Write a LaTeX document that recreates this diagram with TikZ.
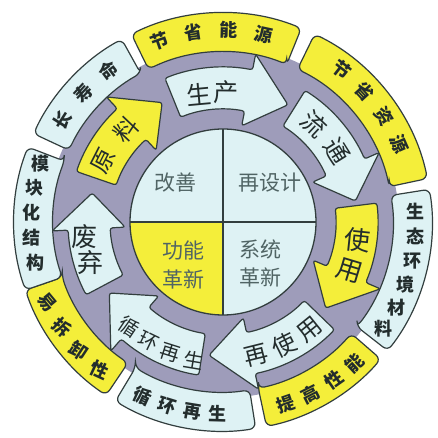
\documentclass[tikz,border=0pt]{standalone}
\usepackage{fontspec}
\newfontfamily\cjk{Noto Sans CJK SC}
\definecolor{ringgray}{RGB}{158,156,186}
\definecolor{lightc}{RGB}{222,242,244}
\definecolor{yel}{RGB}{244,238,58}
\definecolor{edge}{RGB}{50,62,62}
\definecolor{txt}{RGB}{35,45,45}
\definecolor{softtxt}{RGB}{80,100,100}
\tikzset{
  tabbox/.style={draw=edge, line width=1.2pt, rounded corners=6pt},
  arrowbox/.style={draw=edge, line width=1.2pt, rounded corners=2.5pt},
  tabtxt/.style={font=\cjk\bfseries\fontsize{18}{18}\selectfont, text=txt, inner sep=0pt},
  arrtxt/.style={font=\cjk\fontsize{25}{25}\selectfont, text=txt, inner sep=0pt},
  intxt/.style={font=\cjk\fontsize{21}{28}\selectfont, text=softtxt, align=center, inner sep=0pt},
}
\newcommand\ringtab[3]{\draw[tabbox, fill=#3] (#1:170) -- (#1:209) arc[start angle=#1, end angle=#2, radius=209] -- (#2:170) arc[start angle=#2, end angle=#1, radius=170] -- cycle;}
\newcommand\ringarrow[4]{\draw[arrowbox, fill=#4] (#1:155) arc[start angle=#1, end angle=#2, radius=155] -- (#2:171) -- (#3:134) -- (#2:98) -- (#2:113) arc[start angle=#2, end angle=#1, radius=113] -- cycle;}
\begin{document}
\begin{tikzpicture}[x=1pt,y=1pt]
\useasboundingbox[fill=white] (-223,-216) rectangle (214,222);
% gray ring
\fill[ringgray, even odd rule] (0,0) circle (176) (0,0) circle (93);
% outer tabs
\ringtab{68}{116}{yel}
\ringtab{12}{64}{yel}
\ringtab{-38}{9}{lightc}
\ringtab{-78}{-41}{yel}
\ringtab{-121}{-81}{lightc}
\ringtab{-161}{-124}{yel}
\ringtab{159}{199}{lightc}
\ringtab{119}{155}{lightc}
% tab texts
\foreach \a/\c [count=\i] in {109.4/节,98.9/省,88.4/能,77.8/源}
  \node[tabtxt, rotate={\a-90}] (tA\i) at (\a:192) {\c};
\foreach \a/\c [count=\i] in {52/节,42.6/省,33.2/资,23.7/源}
  \node[tabtxt, rotate={\a-90}] (tB\i) at (\a:193) {\c};
\foreach \a/\c [count=\i] in {3/生,-4.3/态,-11.6/环,-18.9/境,-26.2/材,-33.5/料}
  \node[tabtxt] (tC\i) at (\a:193) {\c};
\foreach \a/\c [count=\i] in {-71/提,-63/高,-55/性,-47/能}
  \node[tabtxt, rotate={\a+90}] (tD\i) at (\a:193) {\c};
\foreach \a/\c [count=\i] in {-114.8/循,-107/环,-99.3/再,-91.5/生}
  \node[tabtxt, rotate={\a+90}] (tE\i) at (\a:192) {\c};
\foreach \a/\c [count=\i] in {-155.3/易,-146.8/拆,-138.3/卸,-129.8/性}
  \node[tabtxt, rotate={\a+105}] (tF\i) at (\a:193) {\c};
\foreach \a/\c [count=\i] in {162.3/模,169.7/块,177.2/化,184.6/结,192.1/构}
  \node[tabtxt] (tG\i) at (\a:192) {\c};
\foreach \a/\c [count=\i] in {147.5/长,137.2/寿,127/命}
  \node[tabtxt, rotate={\a-90}] (tH\i) at (\a:190) {\c};
% arrows
\ringarrow{112}{79}{61}{lightc}
\ringarrow{58}{24}{9}{lightc}
\ringarrow{7}{-23}{-40}{yel}
\ringarrow{-44}{-78}{-96}{lightc}
\ringarrow{-99}{-131}{-148}{lightc}
\ringarrow{208}{183}{167.5}{lightc}
\ringarrow{161}{133}{117}{yel}
% arrow labels, one glyph each, set along the ring
\foreach \a/\c [count=\i] in {100.5/生,88.5/产}
  \node[arrtxt, rotate={(\a-90)/2}] (aA\i) at (\a:130) {\c};
\foreach \a/\c [count=\i] in {47/流,32/通}
  \node[arrtxt, rotate={\a-90}] (aB\i) at (\a:134) {\c};
\foreach \a/\c [count=\i] in {-7.5/使,-21/用}
  \node[arrtxt, font=\cjk\fontsize{26}{26}\selectfont, rotate={\a*0.8}] (aC\i) at (\a:136) {\c};
\foreach \a/\c [count=\i] in {-76/再,-63.5/使,-51/用}
  \node[arrtxt, font=\cjk\fontsize{24}{24}\selectfont, rotate={\a+90}] (aD\i) at (\a:138) {\c};
\foreach \a/\c [count=\i] in {-132/循,-122/环,-112/再,-102/生}
  \node[arrtxt, font=\cjk\fontsize{20}{20}\selectfont, rotate={(\a+90)*0.8}] (aE\i) at (\a:141) {\c};
\foreach \a/\c [count=\i] in {186/废,197/弃}
  \node[arrtxt, font=\cjk\fontsize{26}{26}\selectfont] (aF\i) at (\a:139) {\c};
\foreach \a/\c [count=\i] in {153/原,136.5/料}
  \node[arrtxt, font=\cjk\fontsize{24}{24}\selectfont, rotate={\a-90}] (aG\i) at (\a:134) {\c};
% inner circle
\fill[lightc] (0,0) circle (93);
\fill[yel] (0,0) -- (180:93) arc[start angle=180, end angle=270, radius=93] -- cycle;
\draw[edge, line width=1.3pt] (0,0) circle (93);
\draw[edge, line width=1.3pt] (-93,0) -- (93,0) (0,-93) -- (0,93);
\node[intxt] (gs) at (-48,39) {改善};
\node[intxt] (zsj) at (47,39) {再设计};
\node[intxt] (gn) at (-40,-43) {功能\\革新};
\node[intxt] (xt) at (37,-41) {系统\\革新};
\end{tikzpicture}
\end{document}
